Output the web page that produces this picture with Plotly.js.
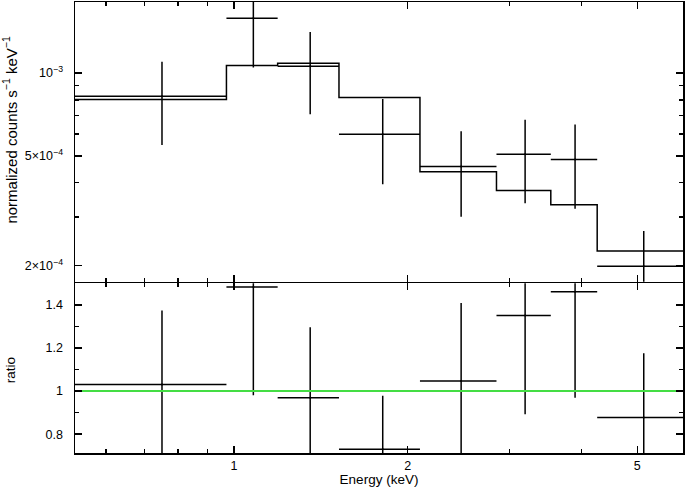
<!DOCTYPE html>
<html>
<head>
<meta charset="utf-8">
<script src="https://cdn.plot.ly/plotly-3.0.1.min.js"></script>
<style>
  body { margin: 0; background: #fff; }
  #plot { width: 685px; height: 487px; }
</style>
</head>
<body>
<div id="plot"></div>
<script>
// model bin edges (keV) and folded model per bin
var binEdges = [0.53, 0.97, 1.19, 1.52, 2.10, 2.85, 3.54, 4.26, 6.0];
var modelVals = [8.01e-4, 1.065e-3, 1.085e-3, 8.16e-4, 4.38e-4, 3.75e-4, 3.33e-4, 2.26e-4];

// data points
var energy = [0.75, 1.08, 1.355, 1.81, 2.475, 3.195, 3.90, 5.13];
var energyHalf = [0.22, 0.11, 0.165, 0.29, 0.375, 0.345, 0.36, 0.87];
var counts = [8.23e-4, 1.58e-3, 1.058e-3, 6.0e-4, 4.58e-4, 5.07e-4, 4.86e-4, 1.99e-4];
var countsErr = [2.75e-4, 5.33e-4, 3.5e-4, 2.05e-4, 1.57e-4, 1.7e-4, 1.64e-4, 0.68e-4];

// ratio panel
var ratio = [1.031, 1.482, 0.969, 0.730, 1.047, 1.350, 1.460, 0.878];
var ratioErr = [0.342, 0.501, 0.327, 0.248, 0.361, 0.457, 0.491, 0.297];

var font = "Liberation Sans, Arial, Helvetica, sans-serif";
var lw = 1.5;

var errStyle = {type: "data", symmetric: true, color: "black", thickness: lw, width: 0};

var modelTrace = {
  x: binEdges,
  y: modelVals.concat([modelVals[modelVals.length - 1]]),
  xaxis: "x2", yaxis: "y2",
  mode: "lines",
  line: {shape: "hv", color: "black", width: lw},
  hoverinfo: "skip"
};

var dataTrace = {
  x: energy, y: counts,
  xaxis: "x2", yaxis: "y2",
  mode: "markers",
  marker: {size: 2, color: "black"},
  error_x: Object.assign({array: energyHalf}, errStyle),
  error_y: Object.assign({array: countsErr}, errStyle)
};

var ratioTrace = {
  x: energy, y: ratio,
  xaxis: "x", yaxis: "y",
  mode: "markers",
  marker: {size: 2, color: "black"},
  error_x: Object.assign({array: energyHalf}, errStyle),
  error_y: Object.assign({array: ratioErr}, errStyle)
};

var unityTrace = {
  x: [binEdges[0], binEdges[binEdges.length - 1]], y: [1, 1],
  xaxis: "x", yaxis: "y",
  mode: "lines",
  line: {color: "#44dd44", width: 2},
  hoverinfo: "skip"
};

// panel split; small gap so both axis lines land on the same pixel row
var split = 0.3765;
var gap = 1.5 / 451;
var xRange = [Math.log10(0.53), Math.log10(6.0)];

var minorStyle = {ticks: "inside", ticklen: 4, tickwidth: lw, tickcolor: "black"};

var axisBase = {
  showline: true, linecolor: "black", linewidth: lw, mirror: "ticks",
  ticks: "inside", ticklen: 7, tickwidth: lw, tickcolor: "black",
  showgrid: false, zeroline: false,
  tickfont: {family: font, size: 12.5, color: "black"}
};

var layout = {
  width: 685, height: 487,
  margin: {l: 75, r: 2, t: 2, b: 34},
  paper_bgcolor: "white", plot_bgcolor: "white",
  showlegend: false,
  font: {family: font, color: "black"},
  xaxis: Object.assign({}, axisBase, {
    type: "log", range: xRange, anchor: "y",
    tickmode: "array", tickvals: [1, 2, 5], ticktext: ["1", "2", "5"],
    minor: Object.assign({tickmode: "array", tickvals: [0.6, 0.7, 0.8, 0.9, 3, 4, 6]}, minorStyle),
    title: {text: "Energy (keV)", font: {family: font, size: 13.5, color: "black"}, standoff: 4}
  }),
  xaxis2: Object.assign({}, axisBase, {
    type: "log", range: xRange, anchor: "y2", matches: "x",
    showticklabels: false,
    tickmode: "array", tickvals: [1, 2, 5],
    minor: Object.assign({tickmode: "array", tickvals: [0.6, 0.7, 0.8, 0.9, 3, 4, 6]}, minorStyle)
  }),
  yaxis: Object.assign({}, axisBase, {
    domain: [0, split], range: [0.713, 1.5], anchor: "x",
    tickmode: "array", tickvals: [0.8, 1, 1.2, 1.4], ticktext: ["0.8", "1", "1.2", "1.4"],
    minor: Object.assign({tickmode: "array", tickvals: [0.9, 1.1, 1.3]}, minorStyle),
    ticklabelstandoff: 8
  }),
  yaxis2: Object.assign({}, axisBase, {
    type: "log", domain: [split + gap, 1], anchor: "x2",
    range: [Math.log10(1.75e-4), Math.log10(1.81e-3)],
    tickmode: "array", tickvals: [2e-4, 5e-4, 1e-3],
    ticktext: ["2×10<sup>−4</sup>", "5×10<sup>−4</sup>", "10<sup>−3</sup>"],
    minor: Object.assign({tickmode: "array", tickvals: [3e-4, 4e-4, 6e-4, 7e-4, 8e-4, 9e-4]}, minorStyle),
    ticklabelstandoff: 8
  }),
  annotations: [
    {text: "normalized counts s<sup>−1</sup> keV<sup>−1</sup>", xref: "paper", yref: "paper",
     x: -0.107, y: 0.717, xanchor: "center", yanchor: "middle", textangle: -90,
     showarrow: false, font: {family: font, size: 15, color: "black"}},
    {text: "ratio", xref: "paper", yref: "paper",
     x: -0.107, y: 0.1835, xanchor: "center", yanchor: "middle", textangle: -90,
     showarrow: false, font: {family: font, size: 13.5, color: "black"}}
  ]
};

Plotly.newPlot("plot", [modelTrace, dataTrace, ratioTrace, unityTrace], layout, {staticPlot: true});
</script>
</body>
</html>
